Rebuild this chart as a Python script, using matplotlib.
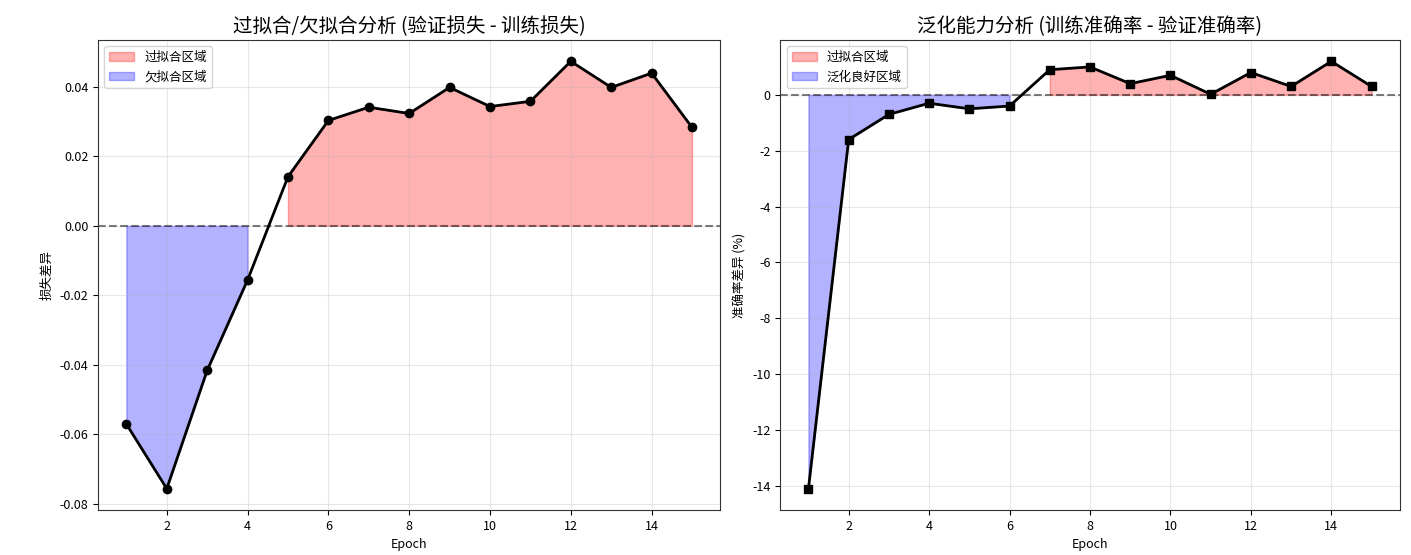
import matplotlib
matplotlib.use("Agg")
import matplotlib.pyplot as plt
import numpy as np

plt.rcParams['font.family'] = ['Noto Sans CJK SC', 'DejaVu Sans']
plt.rcParams['axes.unicode_minus'] = False

epochs = list(range(1, 16))
loss_gap = [-0.057, -0.0756, -0.0416, -0.0156, 0.0141, 0.0303, 0.0341, 0.0323,
            0.0398, 0.0343, 0.0358, 0.0473, 0.0398, 0.0439, 0.0283]
acc_gap = [-14.1, -1.6, -0.7, -0.3, -0.5, -0.4, 0.9, 1.0, 0.4, 0.7, 0.02,
           0.8, 0.3, 1.2, 0.3]

title_left = '过拟合/欠拟合分析 (验证损失 - 训练损失)'
title_right = '泛化能力分析 (训练准确率 - 验证准确率)'

fig = plt.figure(figsize=(14.11, 5.55), dpi=100)
ax1 = fig.add_axes([0.0695, 0.081, 0.441, 0.847])
ax2 = fig.add_axes([0.553, 0.081, 0.439, 0.847])

x = np.array(epochs)
lg = np.array(loss_gap)
ag = np.array(acc_gap)

ax1.plot(x, lg, 'k-o', linewidth=2, markersize=6)
ax1.axhline(0, color='black', linestyle='--', alpha=0.5)
ax1.fill_between(x, lg, 0, where=lg > 0, color='red', alpha=0.3, label='过拟合区域')
ax1.fill_between(x, lg, 0, where=lg < 0, color='blue', alpha=0.3, label='欠拟合区域')
ax1.set_title(title_left, fontsize=14)
ax1.set_xlabel('Epoch', fontsize=9)
ax1.set_ylabel('损失差异', fontsize=9)
ax1.legend(loc='upper left', fontsize=9)
ax1.grid(True, alpha=0.3)
ax1.tick_params(labelsize=9)

ax2.plot(x, ag, 'k-s', linewidth=2, markersize=6)
ax2.axhline(0, color='black', linestyle='--', alpha=0.5)
ax2.fill_between(x, ag, 0, where=ag > 0, color='red', alpha=0.3, label='过拟合区域')
ax2.fill_between(x, ag, 0, where=ag < 0, color='blue', alpha=0.3, label='泛化良好区域')
ax2.set_title(title_right, fontsize=14)
ax2.set_xlabel('Epoch', fontsize=9)
ax2.set_ylabel('准确率差异 (%)', fontsize=9)
ax2.legend(loc='upper left', fontsize=9)
ax2.grid(True, alpha=0.3)
ax2.tick_params(labelsize=9)

for ax in (ax1, ax2):
    for s in ax.spines.values():
        s.set_color('#333333')

fig.savefig('out.png', dpi=100)
